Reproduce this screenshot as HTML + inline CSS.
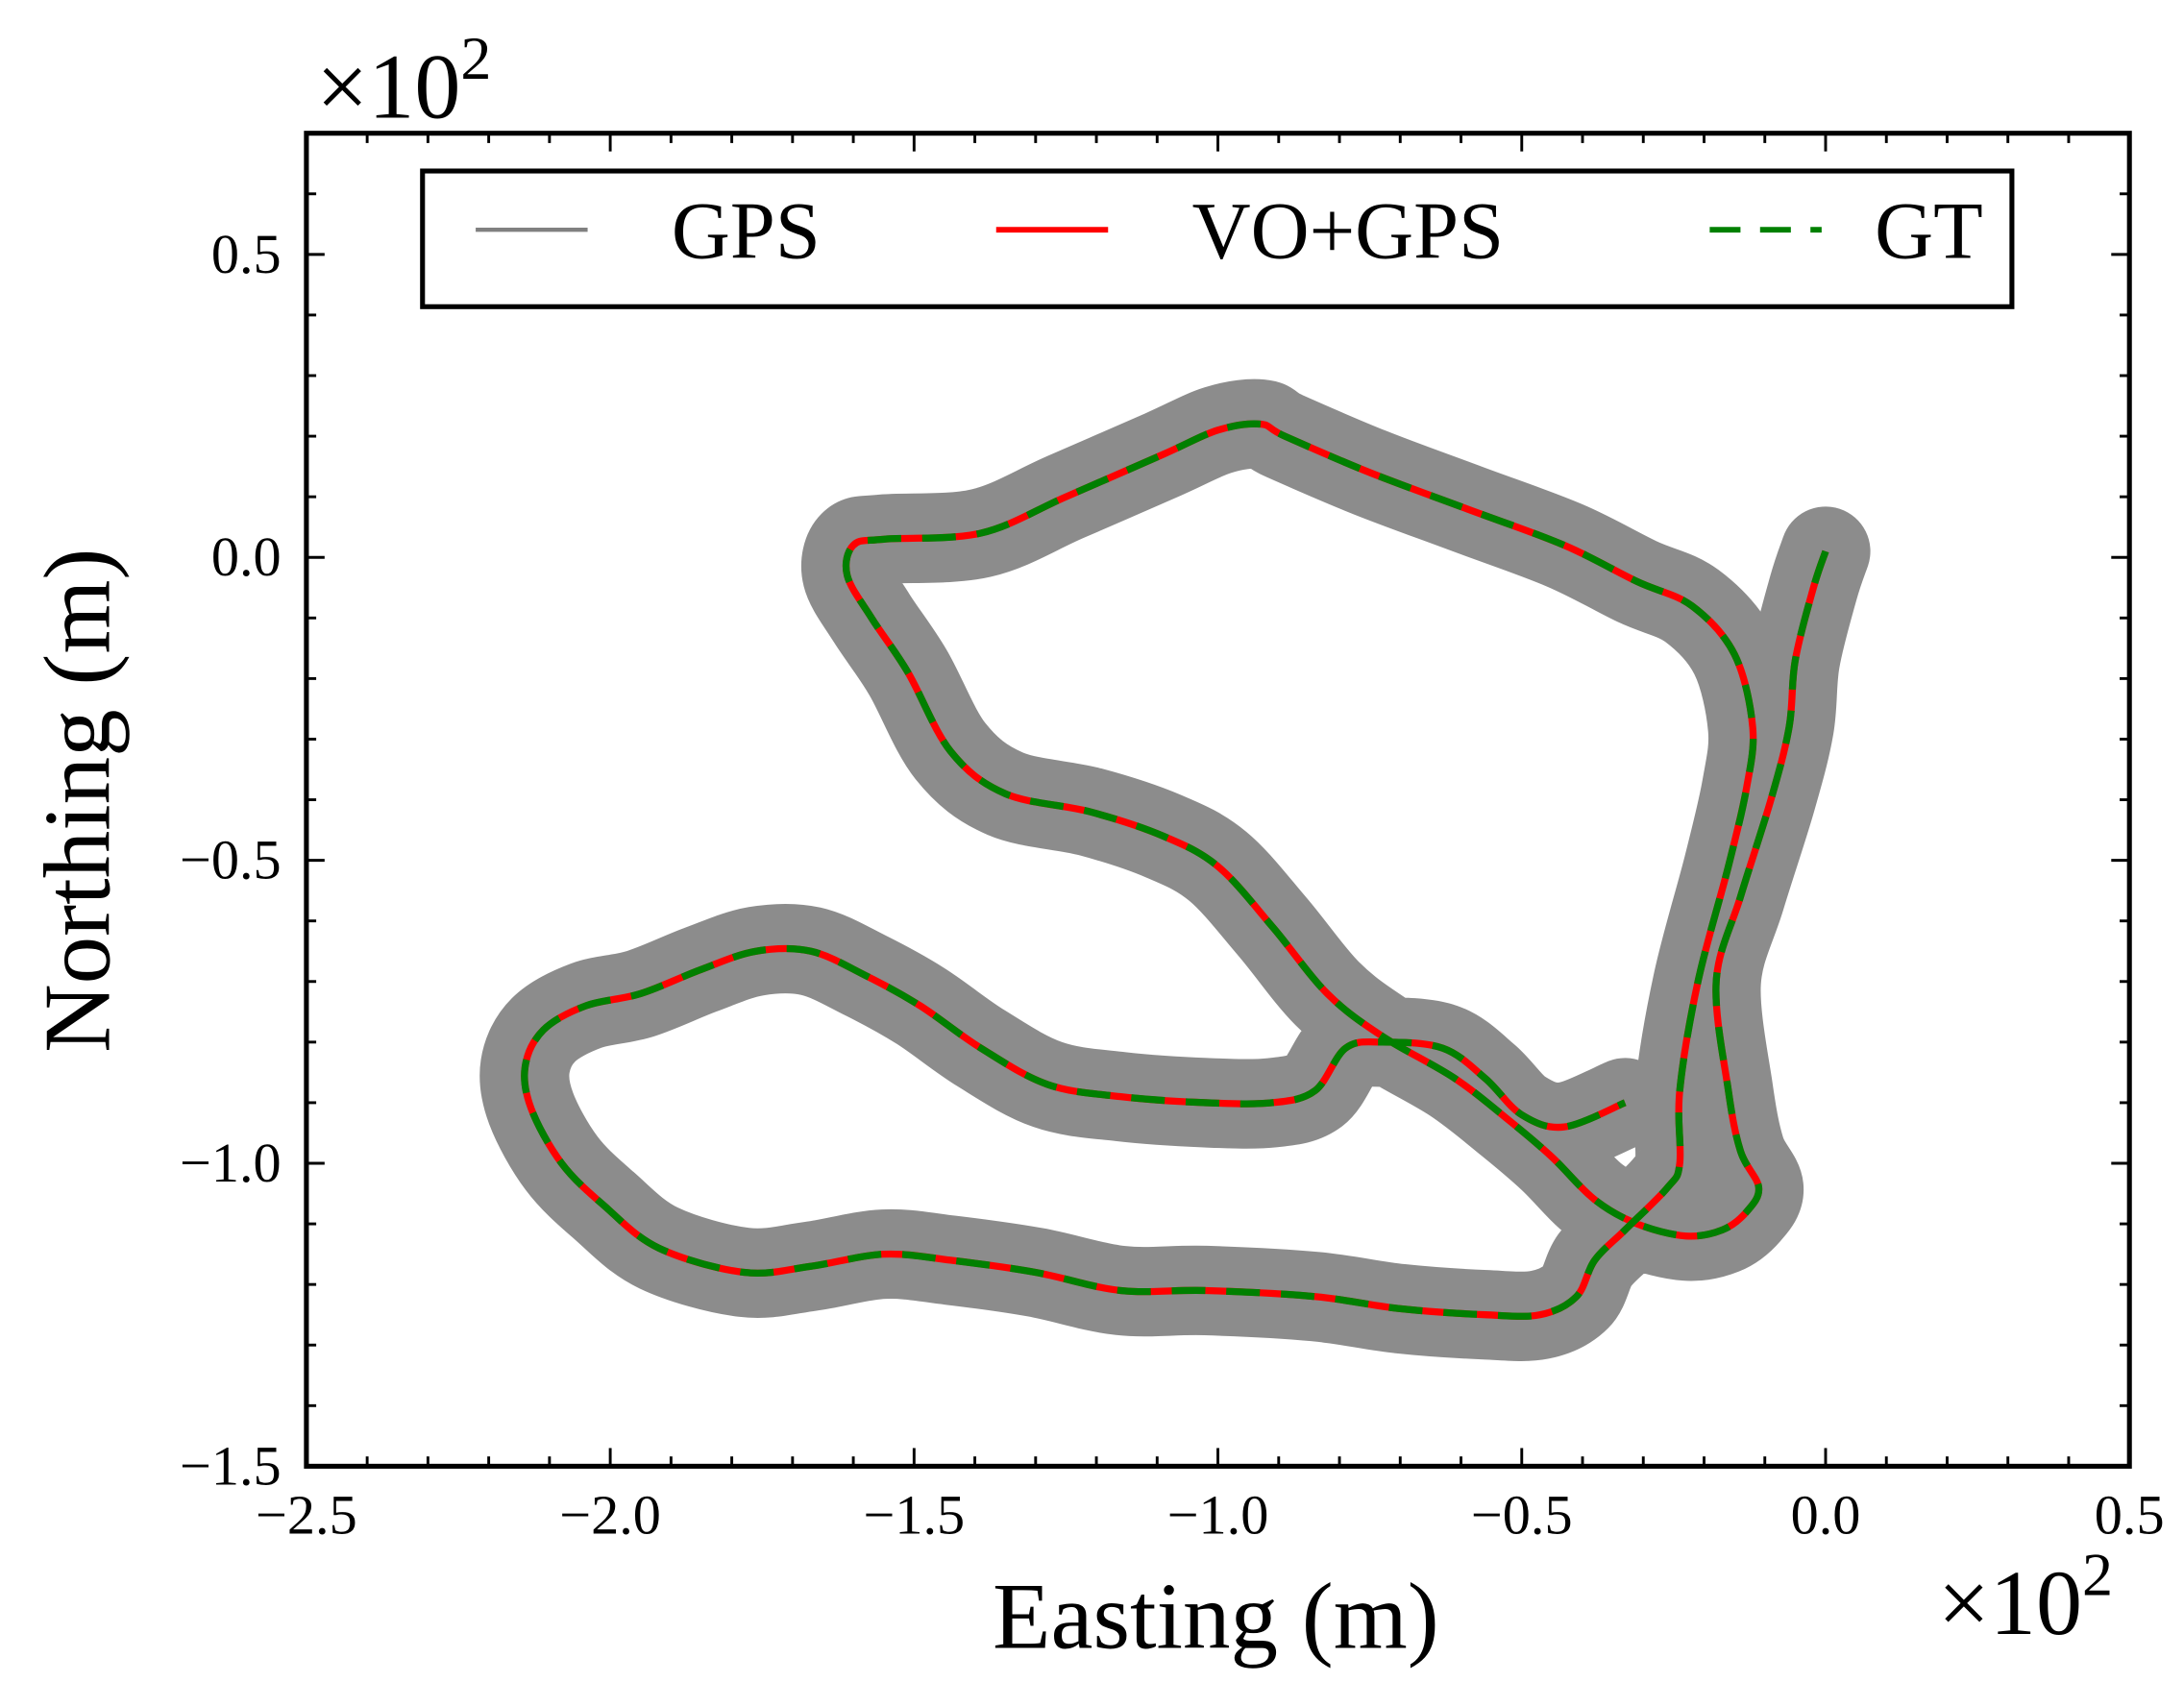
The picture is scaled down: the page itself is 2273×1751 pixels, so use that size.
<!DOCTYPE html>
<html><head><meta charset="utf-8"><style>
html,body{margin:0;padding:0;background:#fff;}
svg{display:block;}
text{font-family:"Liberation Serif",serif;fill:#000;}
</style></head><body>
<svg id="chart" width="2273" height="1751" viewBox="0 0 1561 1202" xmlns="http://www.w3.org/2000/svg">
<g id="plot"></g>
<g id="axes"></g>
<text x="226" y="84" font-size="66">×10<tspan font-size="44" dy="-28">2</tspan></text>
<text x="1385" y="1168" font-size="66">×10<tspan font-size="44" dy="-28">2</tspan></text>
<text x="869" y="1178" font-size="68" text-anchor="middle">Easting (m)</text>
<text transform="translate(78,572) rotate(-90)" font-size="68" text-anchor="middle">Northing (m)</text>
<g>
<rect x="302" y="122" width="1136" height="97" fill="#fff" stroke="#000" stroke-width="3.5"/>
<g><line x1="340" y1="164" x2="420" y2="164" stroke="#808080" stroke-width="3"/><text x="480" y="184" font-size="58">GPS</text></g>
<g><line x1="712" y1="164" x2="792" y2="164" stroke="#ff0000" stroke-width="4"/><text x="852" y="184" font-size="58">VO+GPS</text></g>
<g><line x1="1222" y1="164" x2="1302" y2="164" stroke="#008000" stroke-width="4" stroke-dasharray="22 14"/><text x="1340" y="184" font-size="58">GT</text></g>
</g>
</svg>
<script>
const gtEasting=[0,-0.02,-0.05,-0.06,-0.09,-0.14,-0.18,-0.16,-0.14,-0.11,-0.13,-0.17,-0.23,-0.31,-0.38,-0.45,-0.52,-0.61,-0.73,-0.82,-0.91,-1.00,-1.09,-1.21,-1.35,-1.44,-1.51,-1.57,-1.61,-1.60,-1.55,-1.39,-1.25,-1.09,-1.00,-0.93,-0.89,-0.75,-0.59,-0.43,-0.31,-0.22,-0.15,-0.12,-0.13,-0.16,-0.21,-0.24,-0.24,-0.26,-0.33,-0.38,-0.41,-0.47,-0.56,-0.70,-0.84,-1.02,-1.16,-1.30,-1.44,-1.55,-1.67,-1.78,-1.92,-2.01,-2.08,-2.13,-2.14,-2.11,-2.04,-1.95,-1.85,-1.76,-1.67,-1.58,-1.49,-1.39,-1.28,-1.16,-1.02,-0.91,-0.84,-0.79,-0.73,-0.63,-0.56,-0.50,-0.43,-0.33];
const gtNorthing=[0.01,-0.05,-0.17,-0.28,-0.40,-0.56,-0.70,-0.88,-0.98,-1.04,-1.08,-1.11,-1.12,-1.10,-1.06,-0.99,-0.93,-0.86,-0.79,-0.72,-0.61,-0.51,-0.46,-0.42,-0.39,-0.32,-0.19,-0.10,-0.03,0.02,0.03,0.04,0.10,0.17,0.21,0.22,0.20,0.14,0.08,0.02,-0.04,-0.08,-0.16,-0.28,-0.38,-0.51,-0.70,-0.88,-1.00,-1.04,-1.11,-1.16,-1.22,-1.25,-1.25,-1.24,-1.22,-1.21,-1.21,-1.18,-1.16,-1.15,-1.17,-1.18,-1.14,-1.07,-1.00,-0.91,-0.84,-0.78,-0.74,-0.72,-0.68,-0.65,-0.65,-0.69,-0.74,-0.81,-0.87,-0.89,-0.90,-0.90,-0.88,-0.81,-0.80,-0.81,-0.86,-0.92,-0.94,-0.90];
const xTicks=[-2.5,-2.0,-1.5,-1.0,-0.5,0.0,0.5];
const yTicks=[-1.5,-1.0,-0.5,0.0,0.5];
const xTickLabels=["−2.5","−2.0","−1.5","−1.0","−0.5","0.0","0.5"];
const yTickLabels=["−1.5","−1.0","−0.5","0.0","0.5"];
const NS="http://www.w3.org/2000/svg";
const L=219,R=1522,T=95,B=1048,xMin=-2.5,xMax=0.5,yMin=-1.5,yMax=0.7;
const sx=v=>L+(v-xMin)/(xMax-xMin)*(R-L);
const sy=v=>B-(v-yMin)/(yMax-yMin)*(B-T);
function mk(tag,attrs,parent){const e=document.createElementNS(NS,tag);for(const k in attrs)e.setAttribute(k,attrs[k]);parent.appendChild(e);return e;}
function pathD(xs,ys){const p=xs.map((x,i)=>[sx(x),sy(ys[i])]);let d=`M${p[0][0]},${p[0][1]}`;
for(let i=0;i<p.length-1;i++){const p0=p[Math.max(0,i-1)],p1=p[i],p2=p[i+1],p3=p[Math.min(p.length-1,i+2)];
d+=` C${p1[0]+(p2[0]-p0[0])/6},${p1[1]+(p2[1]-p0[1])/6} ${p2[0]-(p3[0]-p1[0])/6},${p2[1]-(p3[1]-p1[1])/6} ${p2[0]},${p2[1]}`;}return d;}
const plot=document.getElementById('plot'),axes=document.getElementById('axes');
const d=pathD(gtEasting,gtNorthing);
const gps=mk('path',{d:d,fill:'none',stroke:'#808080','stroke-width':64,'stroke-linejoin':'round','stroke-linecap':'round',opacity:0.9},plot);


const vo=mk('path',{d:d,fill:'none',stroke:'#ff0000','stroke-width':5},plot);


const gt=mk('path',{d:d,fill:'none',stroke:'#008000','stroke-width':5,'stroke-dasharray':'24 15'},plot);


const frame=mk('rect',{x:L,y:T,width:R-L,height:B-T,fill:'none',stroke:'#000','stroke-width':3.5},axes);


for(let v=-2.5;v<=0.5001;v+=0.1){const x=sx(v),maj=Math.abs(v*2-Math.round(v*2))<1e-6,len=maj?13:7;
mk('line',{x1:x,y1:B,x2:x,y2:B-len,stroke:'#000','stroke-width':2},axes);mk('line',{x1:x,y1:T,x2:x,y2:T+len,stroke:'#000','stroke-width':2},axes);}
for(let v=-1.5;v<=0.7001;v+=0.1){const y=sy(v),maj=Math.abs(v*2-Math.round(v*2))<1e-6,len=maj?13:7;
mk('line',{x1:L,y1:y,x2:L+len,y2:y,stroke:'#000','stroke-width':2},axes);mk('line',{x1:R,y1:y,x2:R-len,y2:y,stroke:'#000','stroke-width':2},axes);}
xTicks.forEach((v,i)=>{const t=mk('text',{x:sx(v),y:B+48,'font-size':40,'text-anchor':'middle'},axes);t.textContent=xTickLabels[i];

});
yTicks.forEach((v,i)=>{const t=mk('text',{x:L-18,y:sy(v)+13,'font-size':40,'text-anchor':'end'},axes);t.textContent=yTickLabels[i];

});
</script>
</body></html>
